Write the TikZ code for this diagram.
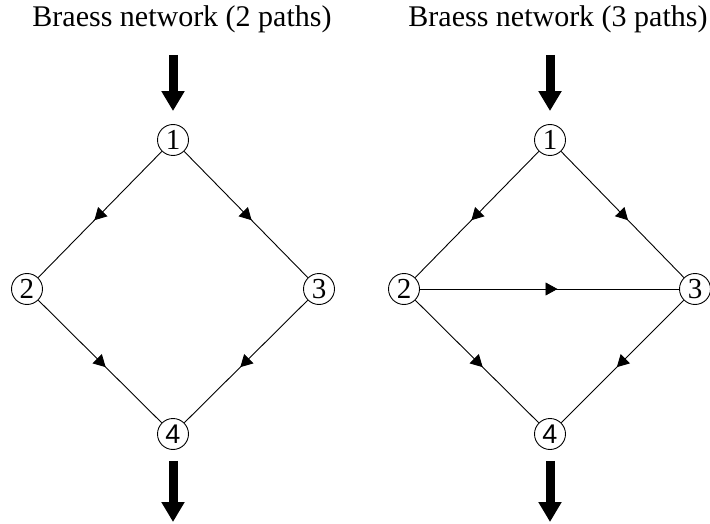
\documentclass[tikz,border=0pt]{standalone}
\usepackage{fontspec}
\setmainfont{Liberation Serif}
\newfontfamily\digitsans{Liberation Sans}
\usetikzlibrary{arrows.meta,decorations.markings}
\begin{document}
\begin{tikzpicture}[x=1pt,y=-1pt,
  vertex/.style={circle,draw,line width=0.9pt,inner sep=0pt,minimum size=31pt,
    font=\fontsize{29}{29}\selectfont},
  sinkdigit/.style={font=\digitsans\fontsize{27}{27}\selectfont},
  link/.style={line width=0.9pt,postaction={decorate},
    decoration={markings,mark=at position 0.5 with
      {\arrow[xshift=8pt]{Triangle[length=12pt,width=13pt]}}}},
  flow/.style={line width=9pt,-{Triangle[length=20pt,width=22pt]}},
  heading/.style={anchor=base,font=\fontsize{30}{36}\selectfont}]
\useasboundingbox (0,0) rectangle (710,524);

% two-path network
\node[heading] (t1) at (182,27) {Braess network (2 paths)};
\node[vertex] (a1) at (173,140) {1};
\node[vertex] (a2) at (27,289) {2};
\node[vertex] (a3) at (319,289) {3};
\node[vertex,sinkdigit] (a4) at (173,434) {4};
\coordinate (ain) at (173,55);
\coordinate (aout) at (173,522);
\draw[link] (a1) -- (a2);
\draw[link] (a1) -- (a3);
\draw[link] (a2) -- (a4);
\draw[link] (a3) -- (a4);
\draw[flow,shorten >=13pt] (ain) -- (a1);
\draw[flow,shorten <=11pt] (a4) -- (aout);

% three-path network
\node[heading] (t2) at (558,27) {Braess network (3 paths)};
\node[vertex] (b1) at (550,140) {1};
\node[vertex] (b2) at (404,289) {2};
\node[vertex] (b3) at (695,289) {3};
\node[vertex,sinkdigit] (b4) at (550,434) {4};
\coordinate (bin) at (550,55);
\coordinate (bout) at (550,522);
\draw[link] (b1) -- (b2);
\draw[link] (b1) -- (b3);
\draw[link] (b2) -- (b3);
\draw[link] (b2) -- (b4);
\draw[link] (b3) -- (b4);
\draw[flow,shorten >=13pt] (bin) -- (b1);
\draw[flow,shorten <=11pt] (b4) -- (bout);
\end{tikzpicture}
\end{document}
